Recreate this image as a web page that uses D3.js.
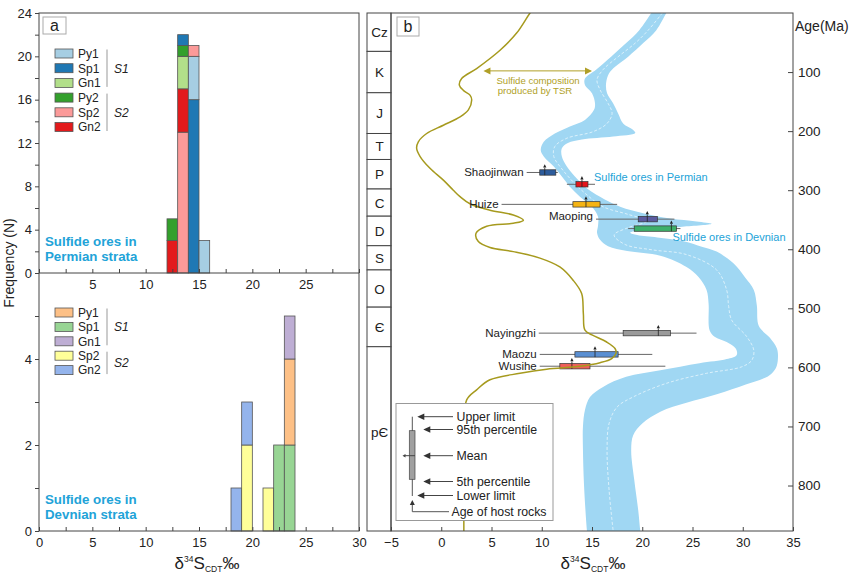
<!DOCTYPE html>
<html>
<head>
<meta charset="utf-8">
<script src="https://cdn.jsdelivr.net/npm/d3@7"></script>
<style>
body{margin:0;background:#fff;}
text{font-family:Arial,"Liberation Sans",sans-serif;fill:#222;}
</style>
</head>
<body>
<svg id="chart" width="851" height="573"></svg>
<script>
// ---------- data: panel a (histograms, bins of 1 permil) ----------
const permBins = [12, 13, 14, 15];
const permPy1 = [0, 0, 4, 3];
const permSp1 = [0, 1, 16, 0];
const permGn1 = [0, 3, 0, 0];
const permPy2 = [2, 1, 0, 0];
const permSp2 = [0, 13, 1, 0];
const permGn2 = [3, 4, 0, 0];
const permOrder = [["Gn2", "Py2"], ["Sp2", "Gn2", "Gn1", "Py2", "Sp1"], ["Sp1", "Py1", "Sp2"], ["Py1"]];
const permNames = ["Py1", "Sp1", "Gn1", "Py2", "Sp2", "Gn2"];

const devBins = [18, 19, 21, 22, 23];
const devPy1 = [0, 0, 0, 0, 2];
const devSp1 = [0, 0, 0, 2, 2];
const devGn1 = [0, 0, 0, 0, 1];
const devSp2 = [0, 2, 1, 0, 0];
const devGn2 = [1, 1, 0, 0, 0];
const devOrder = [["Gn2"], ["Sp2", "Gn2"], ["Sp2"], ["Sp1"], ["Sp1", "Py1", "Gn1"]];
const devNames = ["Py1", "Sp1", "Gn1", "Sp2", "Gn2"];

const freqTicksTop = [0, 4, 8, 12, 16, 20, 24];
const freqTicksBot = [0, 2, 4];

// ---------- data: panel b ----------
const periods = ["Cz", "K", "J", "T", "P", "C", "D", "S", "O", "Є", "pЄ"];
const periodBounds = [0, 65, 135, 204, 248, 298, 344, 394, 435, 498, 565, 877];
const ageTicks = [100, 200, 300, 400, 500, 600, 700, 800];
const deltaTicks = [-5, 0, 5, 10, 15, 20, 25, 30, 35];

// seawater sulfate band edges [d34S, age Ma]
const bandWest = [[21.3,-10],[20.9,0],[19.7,29],[18.4,51],[16.9,74],[15.4,96],[14.3,111],[14.3,122],[15.0,136],
  [15.3,153],[15.2,164],[14.3,181],[12.8,192],[11.3,204],[10.2,218],[9.9,232],[10.2,243],[11.2,260],[12.0,277],
  [12.8,294],[13.8,311],[15.0,328],[15.6,345],[15.6,360],[15.5,372],[15.8,384],[16.6,395],[18.5,403],[21.8,411],
  [24.4,430],[25.6,447],[26.4,469],[26.6,492],[26.7,537],[27.2,548],[28.4,557],[29.3,568],[29.4,579],[28.4,586],
  [25.7,593],[21.8,605],[18.4,616],[16.1,633],[14.8,650],[14.3,672],[14.1,700],[14.1,740],[14.2,797],[14.5,877],[14.6,890]];
const bandEast = [[22.8,-10],[22.4,0],[21.4,29],[20.1,51],[18.6,74],[17.3,91],[16.7,102],[16.4,119],[16.5,136],
  [17.1,153],[17.6,170],[18.1,187],[19.1,198],[19.3,203],[17.1,209],[14.0,214],[12.6,220],[12.0,229],[12.0,243],
  [12.5,260],[13.3,277],[14.3,294],[15.8,311],[17.8,328],[20.1,339],[22.8,348],[25.4,353],[26.9,357],[24.0,362],
  [20.0,367],[18.8,372],[19.5,376],[21.5,380],[24.0,386],[26.0,396],[27.4,404],[29.1,424],[30.2,447],[31.1,469],
  [31.4,495],[31.6,530],[32.7,550],[33.4,568],[33.5,585],[33.3,601],[32.6,614],[30.3,629],[27.5,645],[24.4,660],
  [21.8,675],[20.0,695],[19.1,715],[18.9,740],[19.2,790],[19.6,842],[19.8,877],[19.9,890]];
const bandMid = [[22.0,0],[20.6,29],[19.3,51],[17.6,74],[16.1,96],[15.5,113],[15.8,130],[16.6,153],[17.0,170],
  [16.5,187],[15.1,201],[12.5,212],[11.3,226],[11.2,243],[12.1,266],[13.3,289],[14.5,308],[16.1,328],[18.6,341],
  [20.5,352],[18.5,364],[17.2,376],[18.3,392],[21.0,401],[24.4,409],[27.4,435],[28.4,469],[28.6,497],[28.9,520],
  [30.4,548],[31.1,571],[30.9,588],[29.9,599],[26.4,610],[22.4,627],[19.1,650],[17.5,667],[16.7,695],[16.5,740],
  [16.7,808],[17.1,876]];

// TSR sulfide composition curve [d34S, age Ma]
const tsrCurve = [[9.3,-10],[8.83,0],[7.5,34],[5.85,63],[3.52,94],[2.03,111],[1.8,122],[2.2,131],[2.86,139],[3.03,147],
  [2.7,164],[1.87,176],[0.21,190],[-1.45,204],[-2.28,218],[-2.45,229],[-2.1,243],[-1.12,263],[0.21,283],[1.2,300],
  [1.87,311],[2.86,323],[4.85,334],[7.17,342],[8.17,351],[7.17,356],[4.52,361],[3.46,373],[3.69,387],[4.85,397],
  [7.17,404],[9.82,415],[11.8,430],[13.1,452],[13.97,475],[14.14,509],[14.3,537],[15.0,545],[16.46,557],[17.29,568],
  [17.39,576],[16.96,585],[15.8,592],[13.8,598],[10.49,603],[7.84,610],[4.85,621],[3.52,638],[2.53,655],[2.3,700],
  [2.25,800],[2.25,890]];

// box plots of sulfide d34S
const boxNames = ["Shaojinwan", "", "Huize", "Maoping", "", "Nayingzhi", "Maozu", "Wusihe"];
const boxAge = [270, 290, 324, 349, 365, 542, 578, 598];
const boxLower = [8.5, 12.5, 6.0, 15.4, 18.6, 9.7, 9.8, 9.8];
const boxP5 = [9.8, 13.4, 13.1, 19.6, 19.2, 18.1, 13.3, 11.8];
const boxMean = [10.3, 14.0, 14.4, 20.5, 22.9, 21.6, 15.3, 13.0];
const boxP95 = [11.4, 14.6, 15.8, 21.5, 23.4, 22.8, 17.6, 14.8];
const boxUpper = [11.6, 15.3, 17.5, 23.2, 23.8, 25.4, 21.0, 22.3];
const boxColors = ["#2d5c9c", "#e3161d", "#f5b414", "#5b5ba0", "#3db06a", "#9a9a9a", "#5a8fd2", "#ef5f5a"];

const svg = d3.select("#chart");
const FONT = "Arial, 'Liberation Sans', sans-serif";

// ================= PANEL A =================
const xA = d3.scaleLinear().domain([0, 30]).range([39, 359]);
const yTop = d3.scaleLinear().domain([0, 24]).range([273, 13]);
const yBot = d3.scaleLinear().domain([0, 6]).range([531, 273]);

const permColors = {Py1: "#a6cee3", Sp1: "#1f78b4", Gn1: "#b2df8a", Py2: "#33a02c", Sp2: "#fb9a99", Gn2: "#e31a1c"};
const devColors = {Py1: "#fdc086", Sp1: "#98d594", Gn1: "#beaed4", Sp2: "#ffff99", Gn2: "#94b4ec"};
const permLookup = {Py1: permPy1, Sp1: permSp1, Gn1: permGn1, Py2: permPy2, Sp2: permSp2, Gn2: permGn2};
const devLookup = {Py1: devPy1, Sp1: devSp1, Gn1: devGn1, Sp2: devSp2, Gn2: devGn2};

const gA = svg.append("g");

function drawStack(bins, order, lookup, colors, y) {
  bins.forEach((b, i) => {
    let acc = 0;
    order[i].forEach(name => {
      const v = lookup[name][i];
      if (!v) return;
      gA.append("rect")
        .attr("x", xA(b)).attr("width", xA(b + 1) - xA(b))
        .attr("y", y(acc + v)).attr("height", y(acc) - y(acc + v))
        .attr("fill", colors[name]).attr("stroke", "#555").attr("stroke-width", 0.8);
      acc += v;
    });
  });
}
drawStack(permBins, permOrder, permLookup, permColors, yTop);
drawStack(devBins, devOrder, devLookup, devColors, yBot);

// axes panel a
function styleAxis(g, size) {
  g.select(".domain").remove();
  g.selectAll("line").attr("stroke", "#444");
  g.selectAll("text").attr("font-size", size).attr("font-family", FONT).attr("fill", "#222");
}
gA.append("g").attr("transform", "translate(39,0)")
  .call(d3.axisLeft(yTop).tickValues(d3.range(0, 25, 2)).tickSize(4).tickPadding(3)
    .tickFormat(d => freqTicksTop.includes(d) ? d : ""))
  .call(g => styleAxis(g, 13));
gA.append("g").attr("transform", "translate(39,0)")
  .call(d3.axisLeft(yBot).tickValues([0, 1, 2, 3, 4, 5]).tickSize(4).tickPadding(3)
    .tickFormat(d => freqTicksBot.includes(d) ? d : ""))
  .call(g => styleAxis(g, 13));
gA.append("g").attr("transform", "translate(0,273)")
  .call(d3.axisBottom(xA).tickValues(d3.range(0, 30.1, 2.5)).tickSizeInner(-4).tickSizeOuter(0).tickPadding(7)
    .tickFormat(d => (d % 5 === 0 && d > 0 && d < 30) ? d : ""))
  .call(g => styleAxis(g, 13));
gA.append("g").attr("transform", "translate(0,531)")
  .call(d3.axisBottom(xA).tickValues(d3.range(0, 30.1, 2.5)).tickSizeInner(-4).tickSizeOuter(0).tickPadding(7)
    .tickFormat(d => d % 5 === 0 ? d : ""))
  .call(g => styleAxis(g, 13));

gA.append("rect").attr("x", 39).attr("y", 13).attr("width", 320).attr("height", 518)
  .attr("fill", "none").attr("stroke", "#444").attr("stroke-width", 1);
gA.append("line").attr("x1", 39).attr("x2", 359).attr("y1", 273).attr("y2", 273)
  .attr("stroke", "#444").attr("stroke-width", 1);

// panel label a
gA.append("rect").attr("x", 43).attr("y", 17).attr("width", 23).attr("height", 17)
  .attr("fill", "#fff").attr("stroke", "#aaa");
gA.append("text").attr("x", 54.5).attr("y", 30.5).attr("text-anchor", "middle").attr("font-size", 16).text("a");

// legends panel a
function legend(names, colors, y0, step, groups) {
  names.forEach((n, i) => {
    const y = y0 + i * step;
    gA.append("rect").attr("x", 55).attr("y", y - 4.5).attr("width", 18).attr("height", 9)
      .attr("fill", colors[n]).attr("stroke", "#555").attr("stroke-width", 0.8);
    gA.append("text").attr("x", 78).attr("y", y + 4.3).attr("font-size", 12).text(n);
  });
  groups.forEach(gr => {
    gA.append("line").attr("x1", 107).attr("x2", 107)
      .attr("y1", y0 + gr.from * step - 4).attr("y2", y0 + gr.to * step + 4)
      .attr("stroke", "#999").attr("stroke-width", 1);
    gA.append("text").attr("x", 114).attr("y", y0 + (gr.from + gr.to) / 2 * step + 4.3)
      .attr("font-size", 12).attr("font-style", "italic").text(gr.label);
  });
}
legend(permNames, permColors, 53.5, 14.7, [{from: 0, to: 2, label: "S1"}, {from: 3, to: 5, label: "S2"}]);
legend(devNames, devColors, 312.5, 14.4, [{from: 0, to: 2, label: "S1"}, {from: 3, to: 4, label: "S2"}]);

function cyanLabel(lines, x, y) {
  lines.forEach((l, i) => gA.append("text").attr("x", x).attr("y", y + i * 15)
    .attr("font-size", 13.3).attr("font-weight", "bold").style("fill", "#22a3d8").text(l));
}
cyanLabel(["Sulfide ores in", "Permian strata"], 45, 245.5);
cyanLabel(["Sulfide ores in", "Devnian strata"], 45, 503.5);

gA.append("text").attr("transform", "translate(14,263) rotate(-90)").attr("text-anchor", "middle")
  .attr("font-size", 14).text("Frequency (N)");

function deltaTitle(g, x, y) {
  const t = g.append("text").attr("x", x).attr("y", y).attr("text-anchor", "middle").attr("font-size", 17);
  t.append("tspan").text("δ");
  t.append("tspan").attr("font-size", 8.5).attr("dy", -7).text("34");
  t.append("tspan").attr("font-size", 17).attr("dy", 7).text("S");
  t.append("tspan").attr("font-size", 8.5).attr("dy", 3).text("CDT");
  t.append("tspan").attr("font-size", 17).attr("dy", -3).text("‰");
}
deltaTitle(gA, 207, 569);

// ================= PANEL B =================
const xB = d3.scaleLinear().domain([-5, 35]).range([391, 793]);
const yB = d3.scaleLinear().domain([0, 877]).range([13, 531]);
const gB = svg.append("g");

svg.append("defs").append("clipPath").attr("id", "clipB")
  .append("rect").attr("x", 391).attr("y", 13).attr("width", 402).attr("height", 518);
const plot = gB.append("g").attr("clip-path", "url(#clipB)");

// band
const bandPts = bandWest.concat(bandEast.slice().reverse());
plot.append("path")
  .attr("d", d3.line().x(d => xB(d[0])).y(d => yB(d[1])).curve(d3.curveCatmullRomClosed.alpha(0.5))(bandPts))
  .attr("fill", "#a0d7f3");
plot.append("path")
  .attr("d", d3.line().x(d => xB(d[0])).y(d => yB(d[1])).curve(d3.curveCatmullRom.alpha(0.5))(bandMid))
  .attr("fill", "none").attr("stroke", "#e8f6fd").attr("stroke-width", 0.8).attr("stroke-dasharray", "3,2");

// box plots
const bh = 2.7;
boxAge.forEach((a, i) => {
  const y = yB(a);
  plot.append("line").attr("x1", xB(boxLower[i])).attr("x2", xB(boxUpper[i])).attr("y1", y).attr("y2", y)
    .attr("stroke", "#666").attr("stroke-width", 1);
  plot.append("rect").attr("x", xB(boxP5[i])).attr("width", xB(boxP95[i]) - xB(boxP5[i]))
    .attr("y", y - bh).attr("height", 2 * bh)
    .attr("fill", boxColors[i]).attr("stroke", "#333").attr("stroke-width", 0.7);
  const xm = xB(boxMean[i]);
  plot.append("line").attr("x1", xm).attr("x2", xm).attr("y1", y + bh).attr("y2", y - bh - 2)
    .attr("stroke", "#222").attr("stroke-width", 0.8);
  plot.append("path").attr("d", `M${xm},${y - bh - 5.5}L${xm - 1.6},${y - bh - 2.2}L${xm + 1.6},${y - bh - 2.2}Z`)
    .attr("fill", "#222");
  if (boxNames[i]) {
    const up = boxNames[i] === "Maoping" ? -3 : 0;
    gB.append("text").attr("x", xB(boxLower[i]) - 3).attr("y", y + 4 + up)
      .attr("text-anchor", "end").attr("font-size", 11.5).text(boxNames[i]);
  }
});

// TSR curve
plot.append("path")
  .attr("d", d3.line().x(d => xB(d[0])).y(d => yB(d[1])).curve(d3.curveCatmullRom.alpha(0.5))(tsrCurve))
  .attr("fill", "none").attr("stroke", "#a69a1e").attr("stroke-width", 1.5);

// TSR arrow + text
const olive = "#b09f27";
const ya = yB(98), xa1 = xB(4.2), xa2 = xB(15.0);
gB.append("line").attr("x1", xa1 + 5).attr("x2", xa2 - 5).attr("y1", ya).attr("y2", ya)
  .attr("stroke", olive).attr("stroke-width", 1);
gB.append("path").attr("d", `M${xa1},${ya}L${xa1 + 7},${ya - 3.5}L${xa1 + 7},${ya + 3.5}Z`).attr("fill", olive);
gB.append("path").attr("d", `M${xa2},${ya}L${xa2 - 7},${ya - 3.5}L${xa2 - 7},${ya + 3.5}Z`).attr("fill", olive);
gB.append("text").attr("x", 538).attr("y", 83.5).attr("text-anchor", "middle").attr("font-size", 9.6)
  .style("fill", olive).text("Sulfide composition");
gB.append("text").attr("x", 535).attr("y", 93.5).attr("text-anchor", "middle").attr("font-size", 9.6)
  .style("fill", olive).text("produced by TSR");

// cyan annotations
gB.append("text").attr("x", xB(15.2)).attr("y", yB(284)).attr("font-size", 11).style("fill", "#22a3d8")
  .text("Sulfide ores in Permian");
gB.append("text").attr("x", xB(23.0)).attr("y", yB(386)).attr("font-size", 11).style("fill", "#22a3d8")
  .text("Sulfide ores in Devnian");

// geologic column
periods.forEach((p, i) => {
  const y0 = yB(periodBounds[i]), y1 = yB(periodBounds[i + 1]);
  gB.append("rect").attr("x", 367).attr("y", y0).attr("width", 24).attr("height", y1 - y0)
    .attr("fill", "#fff").attr("stroke", "#444").attr("stroke-width", 1);
  const yc = p === "pЄ" ? yB(710) : (y0 + y1) / 2;
  gB.append("text").attr("x", 379.5).attr("y", yc + 5).attr("text-anchor", "middle")
    .attr("font-size", 13.5).text(p);
});

// frame + axes
gB.append("rect").attr("x", 391).attr("y", 13).attr("width", 402).attr("height", 518)
  .attr("fill", "none").attr("stroke", "#444").attr("stroke-width", 1);
gB.append("g").attr("transform", "translate(0,531)")
  .call(d3.axisBottom(xB).tickValues(deltaTicks).tickSizeInner(-4).tickSizeOuter(0).tickPadding(7))
  .call(g => styleAxis(g, 13));
gB.append("g").attr("transform", "translate(793,0)")
  .call(d3.axisRight(yB).tickValues(ageTicks).tickSizeInner(-5).tickSizeOuter(0).tickPadding(5))
  .call(g => styleAxis(g, 13.5));
gB.append("text").attr("x", 795).attr("y", 31).attr("font-size", 14).text("Age(Ma)");
deltaTitle(gB, 593, 569);

// panel label b
gB.append("rect").attr("x", 397).attr("y", 17).attr("width", 22).attr("height", 19)
  .attr("fill", "#fff").attr("stroke", "#aaa");
gB.append("text").attr("x", 408).attr("y", 31.5).attr("text-anchor", "middle").attr("font-size", 16).text("b");

// box-plot legend
const lg = gB.append("g");
lg.append("rect").attr("x", 396).attr("y", 403.5).attr("width", 157).attr("height", 117)
  .attr("fill", "#fff").attr("stroke", "#999").attr("stroke-width", 1);
const lx = 412.3;
lg.append("line").attr("x1", lx).attr("x2", lx).attr("y1", 416.7).attr("y2", 496).attr("stroke", "#555");
lg.append("rect").attr("x", 409.3).attr("y", 430.7).attr("width", 5.7).attr("height", 48.6)
  .attr("fill", "#a0a0a0").attr("stroke", "#444").attr("stroke-width", 0.7);
lg.append("line").attr("x1", 404).attr("x2", 415).attr("y1", 455.7).attr("y2", 455.7).attr("stroke", "#444");
lg.append("path").attr("d", "M402.5,455.7L405.5,454L405.5,457.4Z").attr("fill", "#444");
lg.append("path").attr("d", `M${lx},500L${lx - 2.5},505L${lx + 2.5},505Z`).attr("fill", "#333");
lg.append("path").attr("d", `M${lx},505L${lx},511.7L449,511.7`).attr("fill", "none").attr("stroke", "#555");
const legItems = [
  {t: "Upper limit", y: 416.7, head: 417.3},
  {t: "95th percentile", y: 429.5, head: 423.3},
  {t: "Mean", y: 455.7, head: 423.3},
  {t: "5th percentile", y: 481.5, head: 423.3},
  {t: "Lower limit", y: 495.5, head: 417.3}
];
legItems.forEach(it => {
  lg.append("line").attr("x1", it.head + 5).attr("x2", 453).attr("y1", it.y).attr("y2", it.y)
    .attr("stroke", "#444").attr("stroke-width", 1);
  lg.append("path").attr("d", `M${it.head},${it.y}L${it.head + 7},${it.y - 3.2}L${it.head + 7},${it.y + 3.2}Z`)
    .attr("fill", "#333");
  lg.append("text").attr("x", 456.5).attr("y", it.y + 4.3).attr("font-size", 12.3).text(it.t);
});
lg.append("text").attr("x", 451.5).attr("y", 516).attr("font-size", 12.3).text("Age of host rocks");
</script>
</body>
</html>
